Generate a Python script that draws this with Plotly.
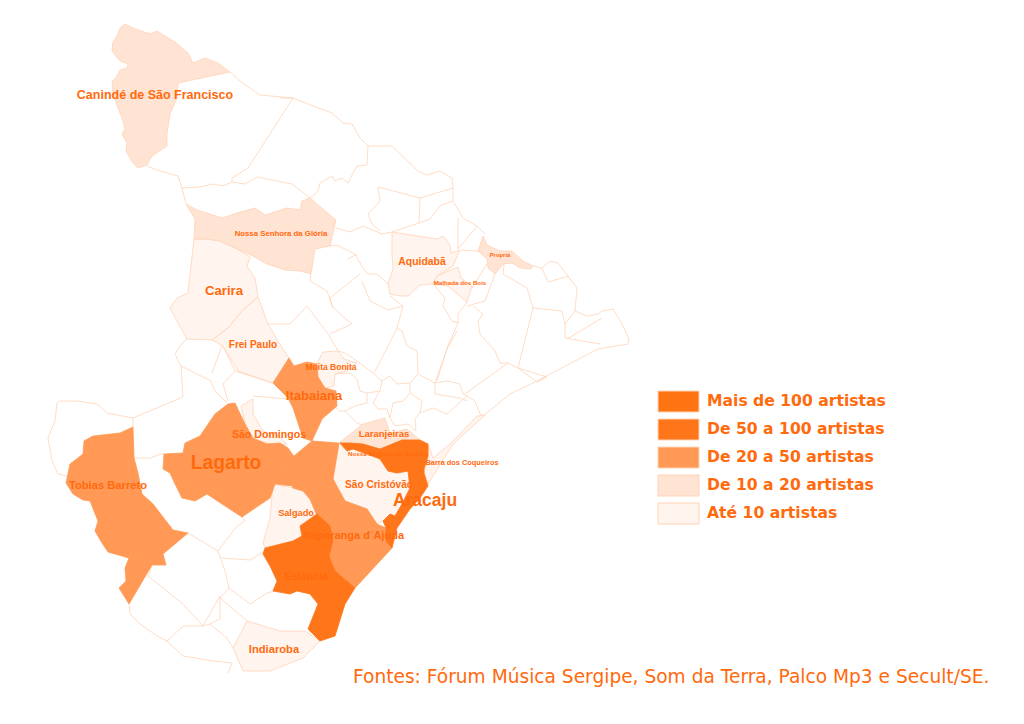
import plotly.graph_objects as go

# Municípios de Sergipe: contornos (x, y em pixels)
caninde = [(125,23),(120,27),(117,35),(113,41),(112,50),(120,60),(128,63),(127,67),(120,69),(115,78),(112,80),(113,93),(118,107),(122,117),(125,128),(122,133),(127,142),(126,150),(133,162),(138,167),(147,164),(152,155),(167,145),(167,133),(170,113),(177,97),(178,82),(230,71),(218,62),(205,57),(193,62),(188,52),(182,47),(175,41),(157,30),(150,33),(133,27)]
gloria = [(186,203),(197,209),(210,213),(222,217),(237,212),(255,207),(265,214),(287,207),(300,209),(302,200),(310,197),(336,219),(330,245),(315,248),(311,273),(300,270),(285,269),(267,263),(253,255),(237,248),(220,240),(207,238),(194,238),(195,218)]
carira = [(194,238),(207,238),(220,240),(237,248),(250,256),(247,265),(255,277),(258,296),(242,310),(228,327),(212,339),(187,338),(178,322),(170,307),(177,297),(188,292)]
frei_paulo = [(258,296),(242,310),(228,327),(212,339),(223,345),(238,370),(273,382),(289,357),(278,340),(268,323)]
itabaiana = [(289,357),(294,365),(307,361),(317,363),(318,376),(325,387),(336,390),(337,405),(322,418),(312,440),(303,437),(297,420),(293,407),(288,397),(273,382)]
moita_bonita = [(317,362),(323,351),(338,350),(344,358),(357,362),(347,370),(335,373),(334,385),(325,387),(318,376)]
aquidaba = [(392,231),(437,238),(443,235),(450,244),(451,252),(460,249),(453,265),(437,275),(433,283),(420,284),(408,295),(400,295),(390,293),(388,283),(393,268),(392,253)]
malhada = [(437,275),(458,266),(461,277),(472,285),(467,301),(448,285),(433,283)]
propria = [(483,235),(487,244),(500,250),(512,250),(523,260),(533,265),(531,268),(520,267),(512,262),(503,263),(495,273),(488,267),(487,258),(478,250)]
lagarto = [(235,402),(240,412),(245,423),(253,437),(267,443),(280,442),(288,447),(295,457),(282,465),(293,485),(275,483),(270,497),(242,516),(222,503),(207,493),(195,500),(182,497),(175,483),(170,472),(163,468),(164,453),(183,452),(185,442),(200,435),(215,413),(228,403)]
sao_domingos = [(241,405),(253,398),(253,413),(263,430),(280,436),(287,443),(280,444),(266,442),(253,440),(245,422)]
tobias = [(133,426),(134,457),(138,472),(142,493),(153,503),(173,529),(188,532),(163,553),(166,564),(152,564),(129,603),(125,597),(119,587),(126,580),(125,567),(129,557),(108,551),(102,542),(95,530),(98,520),(90,500),(83,499),(73,493),(66,482),(70,463),(83,453),(84,440),(93,435),(120,432)]
itaporanga = [(282,465),(312,440),(339,442),(333,478),(345,500),(367,508),(377,523),(386,527),(387,540),(392,547),(355,587),(335,570),(329,555),(333,540),(320,522),(310,498),(303,490),(293,487)]
estancia = [(263,553),(265,547),(293,540),(302,535),(300,525),(317,513),(330,525),(333,540),(329,555),(335,570),(355,587),(345,603),(335,635),(320,640),(308,628),(318,603),(310,593),(297,590),(290,593),(273,590),(277,580),(270,565)]
aracaju = [(340,442),(350,442),(363,443),(380,448),(402,439),(420,439),(428,443),(428,455),(424,468),(424,472),(428,485),(420,497),(410,508),(397,527),(392,547),(386,540),(386,527),(383,520),(390,513),(395,515),(402,503),(410,487),(408,470),(397,472),(388,470),(380,458),(367,453),(353,448),(347,450)]
sao_cristovao = [(339,442),(347,450),(353,448),(367,453),(380,458),(388,470),(397,472),(408,470),(410,487),(402,503),(395,515),(390,513),(383,520),(377,523),(367,508),(345,500),(333,478)]
laranjeiras = [(339,442),(363,423),(385,417),(390,432),(407,428),(420,439),(402,439),(380,448),(363,443),(350,442)]
barra = [(428,443),(433,457),(450,443),(477,415),(485,414),(453,443),(428,483),(424,472),(428,455)]
salgado = [(273,483),(293,487),(303,490),(310,498),(317,513),(300,525),(302,535),(293,540),(265,547),(263,542),(270,517)]
indiaroba = [(247,620),(270,627),(280,630),(305,630),(320,640),(303,657),(287,663),(270,670),(243,670),(233,647)]

# Divisas dos municípios sem dados (sem preenchimento)
divisas = [
    [(230,71),(240,80),(260,94),(293,97),(248,167),(232,177),(232,181),(223,185),(213,183),(200,186),(182,187),(178,175),(157,169),(147,165)],
    [(182,187),(186,203)],
    [(280,97),(293,97),(313,105),(332,112),(343,122),(352,123),(360,137),(368,145),(392,145),(418,170),(427,174),(440,170),(452,177),(453,187),(453,200),(463,217),(477,225),(485,233)],
    [(368,145),(367,164),(357,165),(354,170),(348,182),(342,177),(335,180),(332,175),(320,182),(318,190),(302,205)],
    [(232,181),(245,183),(257,176),(292,183),(310,197)],
    [(378,186),(420,197),(453,187)],
    [(378,186),(380,200),(368,213),(372,223),(380,230)],
    [(420,197),(419,222)],
    [(453,200),(440,205),(430,218),(419,222),(392,231)],
    [(336,227),(350,231),(363,225),(370,228),(382,233),(392,231)],
    [(458,217),(458,248)],
    [(330,245),(337,244),(355,253),(363,267),(368,273),(377,273),(388,283)],
    [(348,258),(357,253)],
    [(360,273),(345,285),(330,297),(332,305),(340,313),(352,323),(330,333)],
    [(362,280),(370,300),(388,309),(403,305),(390,295)],
    [(403,305),(397,327),(387,347),(374,372)],
    [(312,258),(310,280),(327,290),(333,307)],
    [(268,323),(290,323),(307,305),(328,333),(338,350)],
    [(338,350),(345,352),(357,360),(373,372),(382,380),(380,390),(367,392),(367,402),(355,405),(345,410),(340,410),(336,407)],
    [(335,373),(350,372),(357,378),(360,390),(367,392)],
    [(397,327),(402,330),(407,345),(417,350),(418,373),(410,382),(397,383),(390,375),(382,380)],
    [(380,390),(373,402),(378,408),(387,408),(390,417),(395,425),(408,423),(416,430)],
    [(345,410),(357,422),(362,424)],
    [(410,382),(410,392),(403,400),(393,402),(390,417)],
    [(410,392),(422,400),(420,412),(415,418),(416,430)],
    [(420,412),(433,407),(447,413),(467,395)],
    [(418,373),(435,382),(447,380),(460,383),(463,393),(467,395),(475,400),(480,413),(483,415)],
    [(435,382),(435,393),(460,397),(467,400)],
    [(457,330),(447,348),(435,382)],
    [(465,393),(508,362),(518,367),(533,307),(527,287),(503,273),(504,263)],
    [(483,415),(510,393),(533,382),(598,348),(628,343),(629,338),(622,323),(613,308),(602,310),(598,313),(587,315),(575,310),(577,287),(568,275),(558,262),(550,260),(542,267),(533,265)],
    [(542,267),(548,281),(569,275)],
    [(575,310),(565,323),(565,337),(600,343)],
    [(602,317),(567,338)],
    [(533,307),(562,310),(565,323)],
    [(495,273),(488,293),(485,300),(467,305)],
    [(487,263),(472,287)],
    [(461,249),(478,250)],
    [(458,248),(477,225)],
    [(473,305),(483,313),(478,320),(480,333),(495,350),(500,362),(508,362)],
    [(518,367),(547,376),(537,381),(518,367)],
    [(467,301),(458,313),(458,322),(447,347),(437,380)],
    [(433,283),(445,297),(443,305),(452,320),(458,322)],
    [(67,475),(58,473),(52,460),(48,437),(55,420),(57,402),(60,400),(77,400),(97,403),(107,412),(133,417),(133,426)],
    [(133,417),(183,396),(181,365),(175,353),(182,342),(187,338)],
    [(134,457),(150,457),(164,452)],
    [(181,365),(197,373),(211,380),(215,390),(227,402)],
    [(222,345),(212,372)],
    [(223,345),(235,370),(223,383),(228,400)],
    [(235,370),(272,382)],
    [(253,395),(273,397),(288,398)],
    [(188,532),(218,550),(225,570),(229,587),(250,603),(267,592),(275,590)],
    [(242,516),(245,520),(237,525),(218,550)],
    [(222,557),(250,559),(265,550)],
    [(152,564),(148,575),(163,587),(183,603),(203,625),(220,595)],
    [(129,603),(130,613),(140,623),(157,635),(167,640),(183,625),(203,625),(210,623),(227,637),(233,647)],
    [(220,595),(220,618),(210,623)],
    [(220,597),(247,620)],
    [(167,640),(183,655),(213,660),(232,662),(228,672)],
    [(229,587),(220,597)],
]

# Faixas de artistas
legenda = ["Mais de 100 artistas", "De 50 a 100 artistas", "De 20 a 50 artistas", "De 10 a 20 artistas", "Até 10 artistas"]
cores = ["#FF7412", "#FF761A", "#FF9955", "#FFE3D3", "#FFF4EE"]
faixa_municipios = {
    1: [estancia, aracaju],
    2: [lagarto, tobias, itaporanga, itabaiana],
    3: [caninde, gloria, propria, laranjeiras],
    4: [carira, frei_paulo, moita_bonita, aquidaba, malhada, sao_domingos, sao_cristovao, barra, salgado, indiaroba],
}

# Rótulos dos municípios
nomes = ["Canindé de São Francisco", "Nossa Senhora da Glória", "Aquidabã", "Malhada dos Bois", "Propriá", "Carira", "Frei Paulo", "Moita Bonita", "Itabaiana", "São Domingos", "Lagarto", "Tobias Barreto", "Laranjeiras", "Nossa Senhora do Socorro", "Barra dos Coqueiros", "São Cristóvão", "Aracaju", "Salgado", "Itaporanga d´Ajuda", "Estância", "Indiaroba"]
nomes_x = [155, 281, 422, 460, 500, 224, 253, 331, 314, 269, 226, 108, 384, 388, 462, 379, 425, 296, 354, 306, 274]
nomes_y = [95, 233, 261, 282, 255, 291, 344, 367, 396, 434, 463, 485, 434, 453, 462, 484, 501, 513, 535, 576, 649]
nomes_tam = [12.5, 7.8, 10.4, 6.2, 5.9, 13.2, 10, 8.5, 13, 10.6, 19.3, 11.2, 9.5, 6.2, 7.4, 10.1, 17.5, 9.2, 11, 10.7, 11.2]

COR_DIVISA = "#FFD3B6"
COR_TEXTO = "#FF6A0D"

fig = go.Figure()

# Divisas
xs, ys = [], []
for d in divisas:
    xs += [p[0] for p in d] + [None]
    ys += [p[1] for p in d] + [None]
fig.add_trace(go.Scatter(x=xs, y=ys, mode="lines", line=dict(color=COR_DIVISA, width=0.8), hoverinfo="skip"))

# Municípios preenchidos, do mais claro para o mais escuro
for faixa in [4, 3, 2, 1]:
    for mun in faixa_municipios[faixa]:
        fig.add_trace(go.Scatter(
            x=[p[0] for p in mun] + [mun[0][0]],
            y=[p[1] for p in mun] + [mun[0][1]],
            mode="lines", fill="toself", fillcolor=cores[faixa],
            line=dict(color=COR_DIVISA if faixa > 2 else cores[faixa], width=0.8),
            hoverinfo="skip",
        ))

fig.add_trace(go.Scatter(
    x=nomes_x, y=nomes_y, text=nomes, mode="text", textposition="middle center",
    textfont=dict(family="Liberation Sans", size=nomes_tam, color=COR_TEXTO, weight="bold"),
    hoverinfo="skip",
))

# Legenda
for i, cor in enumerate(cores):
    fig.add_shape(type="rect", x0=658, x1=699, y0=390 + 28 * i, y1=411 + 28 * i,
                  fillcolor=cor, line=dict(color="#FFD3B6", width=1), layer="above")
fig.add_trace(go.Scatter(
    x=[707] * 5, y=[401 + 28 * i for i in range(5)], text=legenda, mode="text",
    textposition="middle right",
    textfont=dict(family="DejaVu Sans", size=15.6, color=COR_TEXTO, weight="bold"),
    hoverinfo="skip",
))

fig.add_annotation(x=351, y=675, xref="x", yref="y", xanchor="left", yanchor="middle", showarrow=False,
                   text="Fontes: Fórum Música Sergipe, Som da Terra, Palco Mp3 e Secult/SE.",
                   font=dict(family="DejaVu Sans", size=18.6, color=COR_TEXTO))

# A página tem margem de 8 px à esquerda e 7 px no topo: o eixo começa nesse ponto
fig.update_layout(
    width=1016, height=717, margin=dict(l=0, r=0, t=0, b=0),
    plot_bgcolor="white", paper_bgcolor="white", showlegend=False,
    xaxis=dict(range=[8, 1024], visible=False, fixedrange=True),
    yaxis=dict(range=[724, 7], visible=False, fixedrange=True),
)

fig.write_html("out.html")
